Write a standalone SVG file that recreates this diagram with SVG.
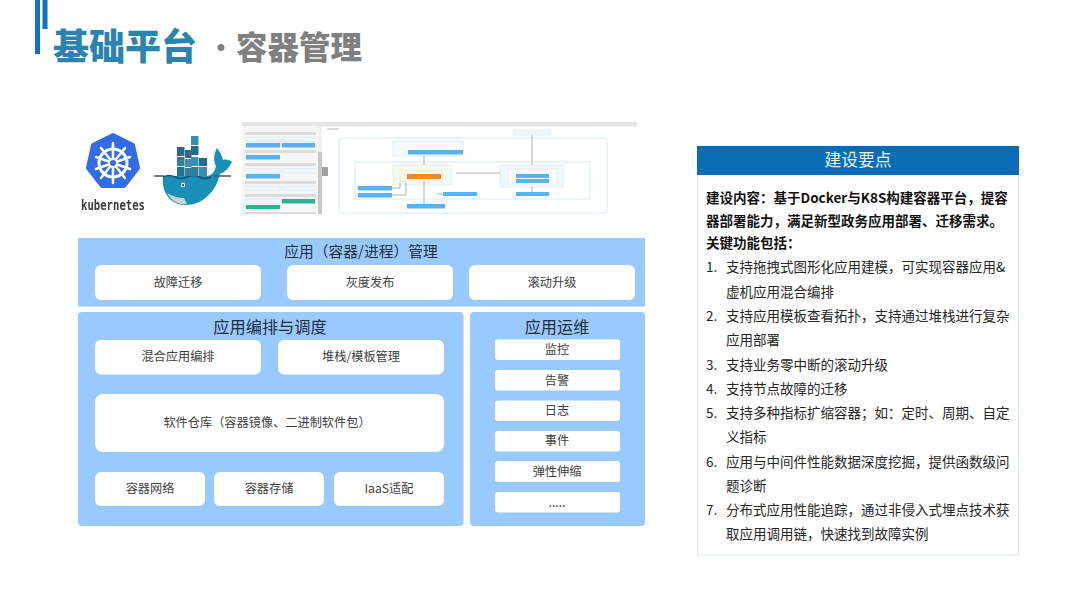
<svg xmlns="http://www.w3.org/2000/svg" width="1080" height="608" viewBox="0 0 1080 608">
<defs>
<filter id="soft" x="-5%" y="-5%" width="110%" height="110%"><feGaussianBlur stdDeviation="0.6"/></filter>
<filter id="soft2" x="-5%" y="-5%" width="110%" height="110%"><feGaussianBlur stdDeviation="0.35"/></filter>
</defs>
<style>
text{font-family:"Noto Sans CJK SC","Noto Sans",sans-serif}
.panel{fill:#99caff}
.box{fill:#fff}
.lbl{font-size:12.2px;fill:#404040;text-anchor:middle}
.hd{font-size:16.2px;fill:#1f2d3d;text-anchor:middle}
.hd2{font-size:14.75px}
.pt{font-size:13.5px;fill:#262626}
.b{font-weight:700;fill:#111}
.sb{fill:#5ab2f2}
.sl{fill:#eef7fd;stroke:#cfe6f5;stroke-width:.6}
.sh{fill:#dcdcdc}
.fr{fill:none;stroke:#cdeaf0;stroke-width:.9}
.cn{fill:none;stroke:#a8a8a8;stroke-width:.9}
</style>
<rect width="1080" height="608" fill="#fff"/>
<g id="title">
<rect x="35" y="0" width="5" height="54" fill="#0b72c4"/>
<rect x="42.500" y="0" width="5" height="29" fill="#0b72c4"/>
<text x="53" y="60" font-size="36" font-weight="900" fill="#2b83b1">基础平台</text>
<circle cx="221" cy="47.500" r="3.500" fill="#808080"/>
<text x="236" y="59" font-size="31.500" font-weight="900" fill="#808080">容器管理</text>
</g>
<g id="kubernetes-logo" filter="url(#soft2)">
<polygon points="113,135 133,145 138,168 124,186 102,186 88,168 93,145" fill="#326ce5" stroke="#326ce5" stroke-width="4" stroke-linejoin="round"/>
<circle cx="113" cy="163" r="14" fill="none" stroke="#fff" stroke-width="3"/>
<g stroke="#fff" stroke-width="2.500" stroke-linecap="round">
<path d="M113 143V183M96 157L130 169M130 157L96 169M101 148L125 178M125 148L101 178"/>
</g>
<circle cx="113" cy="163" r="4" fill="#326ce5" stroke="#fff" stroke-width="2"/>
<text x="113" y="210" font-size="14" font-weight="700" fill="#3a3a3a" text-anchor="middle" style="font-family:'DejaVu Sans Mono','Liberation Mono',monospace" textLength="64" lengthAdjust="spacingAndGlyphs">kubernetes</text>
</g>
<g id="docker-logo" filter="url(#soft2)">
<path d="M163 176H206C212 176 215 171 216 166C213 161 214 153 217 148C220 152 222 156 223 160C226 159 230 160 232 162C229 168 225 172 220 174C216 192 202 205 186 205C170 205 161 192 163 176Z" fill="#1f8fb8"/>
<path d="M167 193C173 197 180 198 184 198L187 204C177 205 171 200 167 193Z" fill="#c9d4da"/>
<circle cx="183" cy="185" r="2.200" fill="#fff"/>
<circle cx="183" cy="185" r="1.100" fill="#1b3c55"/>
<path d="M154 176H164M214 176H231" stroke="#42606e" stroke-width="1.500"/>
<path d="M163 177Q169 174 175 177T187 177T199 177T211 177" fill="none" stroke="#16526f" stroke-width="1.500"/>
<g fill="#2f7d9e">
<rect x="177" y="147" width="7.500" height="9" fill="#276c8a"/><rect x="177" y="157" width="7.500" height="9"/><rect x="177" y="167" width="7.500" height="9" fill="#23708f"/>
<rect x="185" y="150" width="6.500" height="8" fill="#276c8a"/><rect x="185" y="159" width="6.500" height="8" fill="#3b8cae"/><rect x="185" y="168" width="6.500" height="8"/>
<rect x="191" y="136" width="7.500" height="9" fill="#3b8cae"/><rect x="191" y="146" width="7.500" height="9" fill="#276c8a"/><rect x="191" y="157" width="7.500" height="9" fill="#3b8cae"/><rect x="191" y="167" width="7.500" height="9"/>
<rect x="199" y="158" width="8" height="8" fill="#276c8a"/><rect x="199" y="167" width="8" height="9" fill="#3b8cae"/>
</g>
</g>
<g id="screenshot" filter="url(#soft)">
<rect x="242" y="122" width="395" height="4.500" fill="#e6e6e6"/>
<rect x="242" y="126" width="76" height="88" fill="#f6f6f6"/>
<rect x="318" y="152" width="4" height="62" fill="#c8c8c8"/>
<rect x="318" y="126" width="4" height="26" fill="#f0f0f0"/>
<rect x="322" y="167" width="6" height="9" fill="#a0a0a0"/>
<rect class="sh" x="245" y="132" width="71" height="3"/><rect class="sh" x="245" y="150" width="71" height="3"/><rect class="sh" x="245" y="163" width="71" height="3"/><rect class="sh" x="245" y="181" width="71" height="3"/><rect class="sh" x="245" y="194" width="71" height="3"/><rect class="sh" x="245" y="212" width="71" height="2"/>
<rect class="sl" x="246" y="137" width="34" height="4.500"/><rect class="sl" x="282" y="137" width="33" height="4.500"/>
<rect class="sb" x="246" y="143" width="34" height="4.500"/><rect class="sb" x="282" y="143" width="33" height="4.500"/>
<rect class="sb" x="246" y="155" width="34" height="4.500"/>
<rect class="sl" x="246" y="168.500" width="34" height="4.500"/><rect class="sl" x="282" y="168.500" width="33" height="4.500"/>
<rect class="sb" x="246" y="174" width="34" height="4.500"/>
<rect class="sl" x="246" y="186" width="34" height="4.500"/><rect class="sl" x="282" y="186" width="33" height="4.500"/>
<rect class="sl" x="246" y="199" width="34" height="4.500"/><rect x="282" y="199" width="33" height="4.500" fill="#2ab38e"/><rect x="246" y="205" width="34" height="4" fill="#2ab38e"/>
<rect class="sh" x="327" y="128" width="12" height="2"/>
<rect class="fr" x="339" y="138" width="268" height="75" rx="2"/>
<rect class="fr" x="355" y="162" width="235" height="37"/>
<rect x="393" y="141" width="70" height="15" fill="#f5fafe" stroke="#d5e8f5" stroke-width=".7"/>
<rect x="393" y="165" width="58" height="20" fill="#f3faf5" stroke="#d4ecd8" stroke-width=".7"/>
<rect x="400" y="170" width="42" height="11" fill="#fdf5ea" stroke="#f3e2cc" stroke-width=".6"/>
<rect x="407" y="174" width="34" height="5" fill="#f58a22"/>
<rect class="sb" x="408" y="150" width="55" height="4.500"/>
<rect class="sb" x="358" y="186" width="34" height="4.500"/><rect class="sb" x="358" y="193" width="34" height="4.500"/>
<rect class="sb" x="407" y="204" width="38" height="4.500"/>
<rect class="sb" x="443" y="192" width="34" height="4"/>
<rect class="sb" x="516" y="192" width="33" height="4"/>
<rect x="500" y="165" width="63" height="22" fill="#f0f7fd" stroke="#d5e8f5" stroke-width=".7"/>
<rect x="508" y="169" width="49" height="15" fill="#f9fcff" stroke="#d5e8f5" stroke-width=".6"/>
<rect class="sb" x="516" y="174" width="33" height="4"/><rect class="sb" x="516" y="179" width="33" height="4"/>
<rect x="513" y="130" width="38" height="5" fill="#eef7fd" stroke="#d5e8f5" stroke-width=".6"/>
<path class="cn" d="M424 156V165M424 181V204M532 135V165M532 187V192M456 173H500M392 188H400V183M392 195H406V183M443 194H437"/>
</g>
<g id="app-management">
<rect class="panel" x="78" y="238" width="567" height="68.500"/>
<text class="hd hd2" x="361" y="257">应用（容器/进程）管理</text>
</g>
<g id="fault-migration"><rect class="box" x="95" y="265" width="166" height="35" rx="6"/><text class="lbl" x="178" y="287">故障迁移</text></g>
<g id="canary"><rect class="box" x="287" y="265" width="166" height="35" rx="6"/><text class="lbl" x="370" y="287">灰度发布</text></g>
<g id="rolling"><rect class="box" x="469" y="265" width="166" height="35" rx="6"/><text class="lbl" x="552" y="287">滚动升级</text></g>
<g id="orchestration">
<rect class="panel" x="78" y="312" width="385.500" height="214" rx="4"/>
<text class="hd" x="270" y="333">应用编排与调度</text>
</g>
<g id="hybrid"><rect class="box" x="95" y="340" width="166" height="34.500" rx="6"/><text class="lbl" x="178" y="361">混合应用编排</text></g>
<g id="stack"><rect class="box" x="278" y="340" width="166" height="34.500" rx="6"/><text class="lbl" x="361" y="361">堆栈/模板管理</text></g>
<g id="repo"><rect class="box" x="95" y="394" width="349" height="58" rx="8"/><text class="lbl" x="267" y="427">软件仓库（容器镜像、二进制软件包）</text></g>
<g id="network"><rect class="box" x="95" y="472" width="110" height="34" rx="6"/><text class="lbl" x="150" y="493">容器网络</text></g>
<g id="storage"><rect class="box" x="214" y="472" width="110" height="34" rx="6"/><text class="lbl" x="269" y="493">容器存储</text></g>
<g id="iaas"><rect class="box" x="334" y="472" width="110" height="34" rx="6"/><text class="lbl" x="389" y="493">IaaS适配</text></g>
<g id="ops">
<rect class="panel" x="470" y="312" width="175" height="214" rx="4"/>
<text class="hd" x="557" y="333">应用运维</text>
</g>
<g id="monitor"><rect class="box" x="495" y="339.500" width="125" height="20.500" rx="3"/><text class="lbl" x="557" y="354">监控</text></g>
<g id="alert"><rect class="box" x="495" y="370" width="125" height="20.500" rx="3"/><text class="lbl" x="557" y="385">告警</text></g>
<g id="log"><rect class="box" x="495" y="400.500" width="125" height="20.500" rx="3"/><text class="lbl" x="557" y="415">日志</text></g>
<g id="event"><rect class="box" x="495" y="431" width="125" height="20.500" rx="3"/><text class="lbl" x="557" y="445">事件</text></g>
<g id="scaling"><rect class="box" x="495" y="461" width="125" height="21" rx="3"/><text class="lbl" x="557" y="476">弹性伸缩</text></g>
<g id="more"><rect class="box" x="495" y="492" width="125" height="20.500" rx="3"/><text class="lbl" x="557" y="507">.....</text></g>
<g id="key-points">
<rect x="697.500" y="146" width="321" height="409" fill="#fff" stroke="#d6e9ee"/>
<rect x="697" y="146" width="322" height="29" fill="#0b6cb6"/>
<text x="858" y="166" font-size="16.800" fill="#e8f2fa" text-anchor="middle">建设要点</text>
<text class="pt b" x="706" y="203">建设内容：基于Docker与K8S构建容器平台，提容</text>
<text class="pt b" x="706" y="226">器部署能力，满足新型政务应用部署、迁移需求。</text>
<text class="pt b" x="706" y="248">关键功能包括：</text>
<text class="pt" x="706" y="272">1.</text><text class="pt" x="726" y="272">支持拖拽式图形化应用建模，可实现容器应用&amp;</text>
<text class="pt" x="726" y="297">虚机应用混合编排</text>
<text class="pt" x="706" y="321">2.</text><text class="pt" x="726" y="321">支持应用模板查看拓扑，支持通过堆栈进行复杂</text>
<text class="pt" x="726" y="345">应用部署</text>
<text class="pt" x="706" y="370">3.</text><text class="pt" x="726" y="370">支持业务零中断的滚动升级</text>
<text class="pt" x="706" y="394">4.</text><text class="pt" x="726" y="394">支持节点故障的迁移</text>
<text class="pt" x="706" y="418">5.</text><text class="pt" x="726" y="418">支持多种指标扩缩容器；如：定时、周期、自定</text>
<text class="pt" x="726" y="442">义指标</text>
<text class="pt" x="706" y="467">6.</text><text class="pt" x="726" y="467">应用与中间件性能数据深度挖掘，提供函数级问</text>
<text class="pt" x="726" y="491">题诊断</text>
<text class="pt" x="706" y="515">7.</text><text class="pt" x="726" y="515">分布式应用性能追踪，通过非侵入式埋点技术获</text>
<text class="pt" x="726" y="539">取应用调用链，快速找到故障实例</text>
</g>
<g id="connectors"></g>
</svg>
